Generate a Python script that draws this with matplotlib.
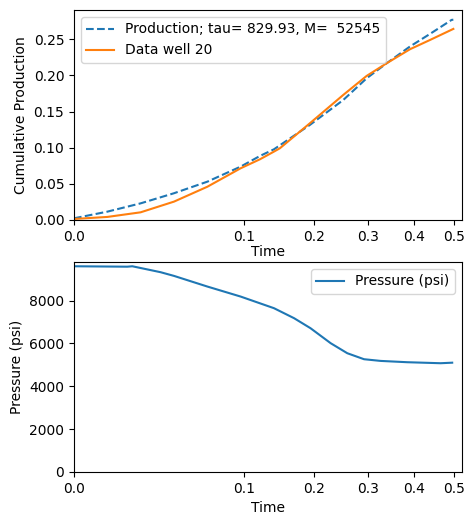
import numpy as np
import matplotlib
matplotlib.use("Agg")
import matplotlib.pyplot as plt

# model curve (tau / M fit)
t_model = [0.0, 0.00385, 0.0154, 0.0347, 0.0617, 0.0963, 0.12, 0.1387, 0.193, 0.2515,
           0.297, 0.339, 0.3915, 0.4395, 0.4946, 0.499]
q_model = [0.0023, 0.0115, 0.023, 0.037, 0.053, 0.0738, 0.0886, 0.0978, 0.1315, 0.166,
           0.196, 0.2168, 0.240, 0.2574, 0.2768, 0.2770]

# measured cumulative production, well 20
t_data = [0.0, 0.00385, 0.0154, 0.0347, 0.0617, 0.0963, 0.12, 0.1387, 0.147, 0.193, 0.2515,
          0.297, 0.339, 0.3915, 0.4395, 0.499]
q_data = [0.0014, 0.0042, 0.0106, 0.0254, 0.046, 0.0715, 0.084, 0.0946, 0.0992, 0.1338, 0.173,
          0.1993, 0.2168, 0.2362, 0.249, 0.2643]

# pressure history
t_p = [0.0, 0.00986, 0.0118, 0.026, 0.0347, 0.0617, 0.0963, 0.1387, 0.168, 0.194, 0.2285,
       0.259, 0.2917, 0.326, 0.385, 0.466, 0.496]
p = [9600, 9580, 9600, 9323, 9150, 8653, 8186, 7643, 7176, 6709, 6009,
     5542, 5262, 5183, 5122, 5075, 5100]

xticks = [0.0, 0.1, 0.2, 0.3, 0.4, 0.5]

fig = plt.figure(figsize=(4.73, 5.25), dpi=100)
ax1 = fig.add_axes([0.1564, 0.581, 0.8203, 0.400])
ax2 = fig.add_axes([0.1564, 0.101, 0.8203, 0.400])

ax1.plot(t_model, q_model, '--', label="Production; tau= 829.93, M=  52545")
ax1.plot(t_data, q_data, label="Data well 20")
ax1.set_ylabel("Cumulative Production")
ax1.set_xlabel("Time", labelpad=1)
ax1.set_ylim(0, 0.2905)
ax1.legend(loc="upper left")

ax2.plot(t_p, p, label="Pressure (psi)")
ax2.set_ylabel("Pressure (psi)")
ax2.set_xlabel("Time")
ax2.set_ylim(0, 9800)
ax2.legend(loc="upper right")

for ax in (ax1, ax2):
    ax.set_xscale('function', functions=(lambda x: np.sqrt(np.clip(x, 0, None)), np.square))
    ax.set_xlim(0, 0.522)
    ax.set_xticks(xticks)
    ax.set_xticklabels([f"{v:.1f}" for v in xticks])

fig.savefig("out.png", dpi=100)
